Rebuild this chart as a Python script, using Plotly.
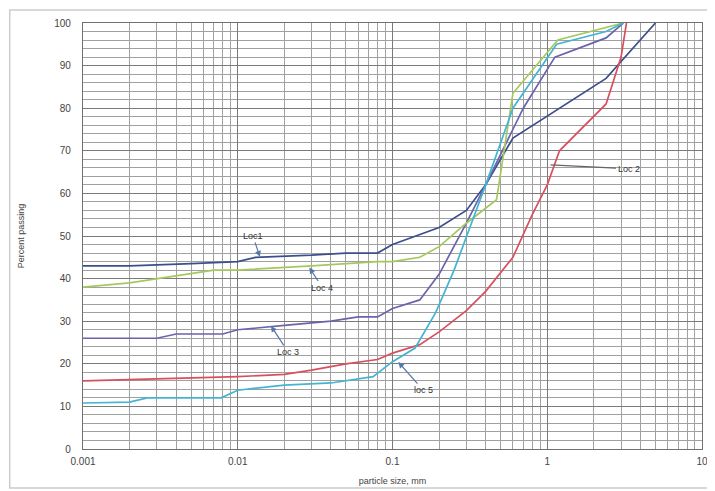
import plotly.graph_objects as go
import numpy as np

# ---- data ----
loc1_size = [0.001, 0.002, 0.005, 0.01, 0.013, 0.03, 0.05, 0.08, 0.1, 0.2, 0.3, 0.4, 0.6, 2.4, 5.0]
loc1_pass = [43, 43, 43.5, 44, 45, 45.5, 46, 46, 48, 52, 56, 62, 73, 87, 100]

loc2_size = [0.001, 0.003, 0.01, 0.02, 0.03, 0.05, 0.08, 0.1, 0.15, 0.2, 0.3, 0.4, 0.6, 0.8, 1.0, 1.2, 2.4, 3.0, 3.25]
loc2_pass = [16, 16.5, 17, 17.5, 18.5, 20, 21, 22.5, 24.5, 27.5, 32.5, 37, 45, 55, 62, 70, 81, 92, 100]

loc3_size = [0.001, 0.003, 0.004, 0.008, 0.01, 0.015, 0.02, 0.04, 0.06, 0.08, 0.1, 0.15, 0.2, 0.3, 0.4, 0.7, 1.12, 2.4, 3.1]
loc3_pass = [26, 26, 27, 27, 28, 28.5, 29, 30, 31, 31, 33, 35, 41, 53, 62, 80, 92, 96.5, 100]

loc4_size = [0.001, 0.002, 0.007, 0.01, 0.03, 0.05, 0.08, 0.1, 0.15, 0.2, 0.3, 0.47, 0.6, 1.17, 2.4, 3.1]
loc4_pass = [38, 39, 42, 42, 43, 43.5, 44, 44, 45, 47.5, 53, 58.5, 83.5, 96, 99, 100]

loc5_size = [0.001, 0.002, 0.0026, 0.0078, 0.01, 0.02, 0.04, 0.075, 0.1, 0.14, 0.19, 0.25, 0.4, 0.6, 1.15, 2.4, 3.1]
loc5_pass = [10.8, 11, 12, 12, 13.8, 15, 15.5, 17, 20.5, 23.7, 32, 42, 62, 80, 95, 98, 100]

series_names = ["Loc1", "Loc 2", "Loc 3", "Loc 4", "loc 5"]
series_colors = ["#3c4f8c", "#d9505c", "#6a64ad", "#a5c85e", "#45b4d2"]

x_tick_vals = [0.001, 0.01, 0.1, 1, 10]
x_tick_text = ["0.001", "0.01", "0.1", "1", "10"]
y_tick_vals = list(range(0, 101, 10))

FONT = "Liberation Sans"

fig = go.Figure()
for name, xs, ys, col in zip(series_names,
                             [loc1_size, loc2_size, loc3_size, loc4_size, loc5_size],
                             [loc1_pass, loc2_pass, loc3_pass, loc4_pass, loc5_pass],
                             series_colors):
    fig.add_trace(go.Scatter(x=xs, y=ys, mode="lines", name=name,
                             line=dict(color=col, width=1.7), showlegend=False))

# annotation labels (tip in data coords, text offset in px)
labels = [
    ("Loc1", 0.0139, 45.1, -7, -21),
    ("Loc 4", 0.029, 42.6, 13, 20),
    ("Loc 3", 0.0164, 28.9, 17, 26),
    ("loc 5", 0.109, 20.4, 25, 28),
]
for txt, xv, yv, ax, ay in labels:
    fig.add_annotation(x=np.log10(xv), y=yv, xref="x", yref="y", text=txt,
                       showarrow=True, arrowhead=2, arrowsize=1, arrowwidth=1.2,
                       arrowcolor="#5577aa", ax=ax, ay=ay,
                       font=dict(size=9, color="#333333", family=FONT))
fig.add_annotation(x=np.log10(1.05), y=66.7, xref="x", yref="y", text="Loc 2",
                   showarrow=True, arrowhead=0, arrowwidth=1.2, arrowcolor="#666666",
                   ax=78, ay=4, font=dict(size=9, color="#333333", family=FONT))

grid_col = "#a0a0a0"
fig.update_xaxes(type="log", range=[-3, 1], tickvals=x_tick_vals, ticktext=x_tick_text,
                 showgrid=True, gridcolor="#7a7a7a", gridwidth=1.4,
                 minor=dict(dtick="D1", showgrid=True, gridcolor=grid_col, gridwidth=1.1, ticks=""),
                 showline=True, linecolor="#707070", linewidth=1.3, mirror=True,
                 ticks="", zeroline=False, ticklabelstandoff=3,
                 tickfont=dict(size=10, color="#444444", family=FONT),
                 title=dict(text="particle size, mm", font=dict(size=9, color="#444444", family=FONT),
                            standoff=11))
fig.update_yaxes(range=[0, 100], tickvals=y_tick_vals, showgrid=True, gridcolor="#7a7a7a", gridwidth=1.3,
                 minor=dict(dtick=2, showgrid=True, gridcolor=grid_col, gridwidth=1.1, ticks=""),
                 showline=True, linecolor="#707070", linewidth=1.3, mirror=True,
                 ticks="", zeroline=False, ticklabelstandoff=9,
                 tickfont=dict(size=10, color="#444444", family=FONT),
                 title=dict(text="Percent passing", font=dict(size=9, color="#444444", family=FONT),
                            standoff=28))

fig.add_shape(type="rect", xref="paper", yref="paper", x0=-0.1184, x1=1.03, y0=-0.0915, y1=1.0305,
              line=dict(color="#cccccc", width=1.5), layer="below")

fig.update_layout(width=707, height=483, margin=dict(l=75, r=7, t=15, b=42),
                  paper_bgcolor="white", plot_bgcolor="white", showlegend=False)

fig.write_html("out.html")
